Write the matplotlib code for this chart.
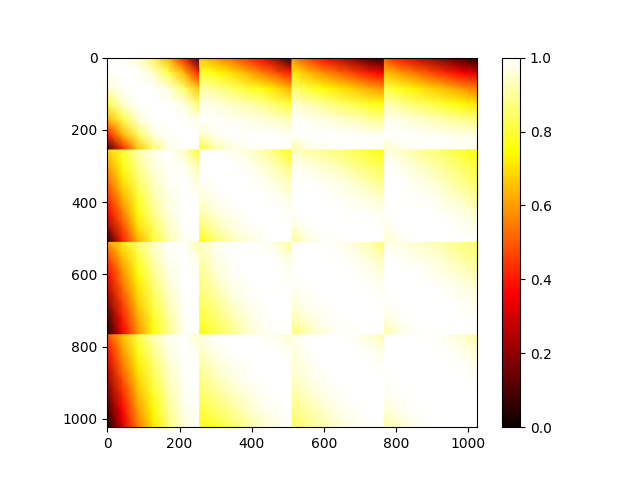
import numpy as np
import matplotlib
matplotlib.use("Agg")
import matplotlib.pyplot as plt
from matplotlib.cm import ScalarMappable
from matplotlib.colors import Normalize

block_size = 256
block_count = 4

# Values: rows = y within block, columns = x within block
b00 = [[1.00, .995, .95, .82, .64, .40, .05],
       [ .995, 1.0, .995, .95, .82, .64, .40],
       [ .95, .995, 1.0, .997, .96, .84, .66],
       [ .82, .95, .997, 1.0, .997, .97, .84],
       [ .64, .82, .96, .997, 1.0, .998, .97],
       [ .40, .64, .84, .97, .998, 1.0, .998],
       [ .05, .40, .66, .84, .97, .998, 1.0]]
b01 = [[ .68, .60, .52, .44, .36, .22, .03],
       [ .80, .76, .71, .64, .56, .48, .40],
       [ .92, .89, .85, .80, .76, .70, .62],
       [ .98, .965, .94, .92, .89, .84, .79],
       [ .998, .995, .985, .975, .965, .945, .92],
       [ .94, .985, .998, 1.0, .998, .995, .985],
       [ .78, .90, .96, .985, .995, 1.0, 1.0]]
b02 = [[ .58, .46, .37, .28, .18, .08, .03],
       [ .72, .65, .58, .52, .46, .40, .35],
       [ .86, .80, .75, .71, .67, .62, .58],
       [ .955, .925, .89, .85, .82, .78, .75],
       [ .995, .985, .97, .95, .93, .90, .88],
       [ .995, .998, 1.0, .998, .995, .99, .985],
       [ .90, .97, .99, .998, 1.0, 1.0, .998]]
b03 = [[ .48, .38, .30, .22, .15, .08, .02],
       [ .66, .60, .54, .48, .42, .36, .30],
       [ .82, .77, .72, .68, .64, .59, .54],
       [ .93, .89, .85, .82, .78, .74, .71],
       [ .985, .97, .95, .93, .91, .89, .87],
       [ .998, .998, .995, .99, .985, .975, .965],
       [ .93, .98, .995, 1.0, 1.0, .998, .995]]
b11 = [[1.00, .998, .985, .96, .92, .85, .76],
       [ .998, 1.0, .998, .985, .96, .92, .85],
       [ .985, .998, 1.0, .998, .985, .96, .92],
       [ .96, .985, .998, 1.0, .998, .985, .96],
       [ .92, .96, .985, .998, 1.0, .998, .985],
       [ .85, .92, .96, .985, .998, 1.0, .998],
       [ .76, .85, .92, .96, .985, .998, 1.0]]
b12 = [[ .94, .91, .88, .86, .83, .80, .76],
       [ .99, .97, .95, .92, .88, .85, .82],
       [ .998, .995, .985, .97, .945, .91, .87],
       [1.00, .998, .998, .99, .98, .96, .94],
       [ .995, 1.0, 1.0, .998, .995, .99, .98],
       [ .96, .995, 1.0, 1.0, 1.0, .998, .995],
       [ .88, .96, .985, .995, 1.0, 1.0, 1.0]]
b13 = [[ .975, .94, .90, .87, .84, .80, .76],
       [ .998, .98, .95, .92, .88, .84, .80],
       [1.00, .998, .98, .96, .925, .885, .84],
       [1.00, 1.0, .995, .985, .96, .93, .89],
       [ .995, 1.0, 1.0, .998, .985, .97, .94],
       [ .98, .998, 1.0, 1.0, .998, .99, .975],
       [ .94, .98, .998, 1.0, 1.0, .998, .995]]
b22 = [[1.00, .999, .995, .985, .96, .92, .84],
       [ .999, 1.0, .999, .995, .985, .96, .92],
       [ .995, .999, 1.0, .999, .995, .985, .96],
       [ .985, .995, .999, 1.0, .999, .995, .985],
       [ .96, .985, .995, .999, 1.0, .999, .995],
       [ .92, .96, .985, .995, .999, 1.0, .999],
       [ .84, .92, .96, .985, .995, .999, 1.0]]
b23 = [[ .98, .965, .95, .93, .90, .87, .84],
       [1.00, .995, .98, .965, .94, .91, .88],
       [1.00, 1.0, .998, .985, .97, .945, .92],
       [ .998, 1.0, 1.0, .998, .99, .975, .955],
       [ .99, .998, 1.0, 1.0, .998, .99, .98],
       [ .96, .99, .998, 1.0, 1.0, .998, .99],
       [ .90, .965, .99, .998, 1.0, 1.0, .998]]
b33 = [[1.00, .999, .998, .995, .98, .95, .90],
       [ .999, 1.0, .999, .998, .995, .98, .95],
       [ .998, .999, 1.0, .999, .998, .995, .98],
       [ .995, .998, .999, 1.0, .999, .998, .995],
       [ .98, .995, .998, .999, 1.0, .999, .998],
       [ .95, .98, .995, .998, .999, 1.0, .999],
       [ .90, .95, .98, .995, .998, .999, 1.0]]

upper_blocks = {(0, 0): b00, (0, 1): b01, (0, 2): b02, (0, 3): b03,
                (1, 1): b11, (1, 2): b12, (1, 3): b13,
                (2, 2): b22, (2, 3): b23, (3, 3): b33}

fig, ax = plt.subplots(figsize=(6.4, 4.8), dpi=100)
norm = Normalize(0, 1)
cmap = "hot"

def draw_block(row, col, values):
    values = np.asarray(values)
    xs = np.linspace(col * block_size - 0.5, (col + 1) * block_size - 0.5, values.shape[1])
    ys = np.linspace(row * block_size - 0.5, (row + 1) * block_size - 0.5, values.shape[0])
    ax.pcolormesh(xs, ys, values, shading="gouraud", cmap=cmap, norm=norm, antialiased=False)

for (row, col), values in upper_blocks.items():
    draw_block(row, col, values)
    if row != col:
        draw_block(col, row, np.asarray(values).T)

total = block_size * block_count
ax.set_xlim(-0.5, total - 0.5)
ax.set_ylim(total - 0.5, -0.5)
ax.set_aspect("equal")
ax.set_xticks([0, 200, 400, 600, 800, 1000])
ax.set_yticks([0, 200, 400, 600, 800, 1000])
fig.colorbar(ScalarMappable(norm=norm, cmap=cmap), ax=ax)
fig.savefig("out.png", dpi=100)
